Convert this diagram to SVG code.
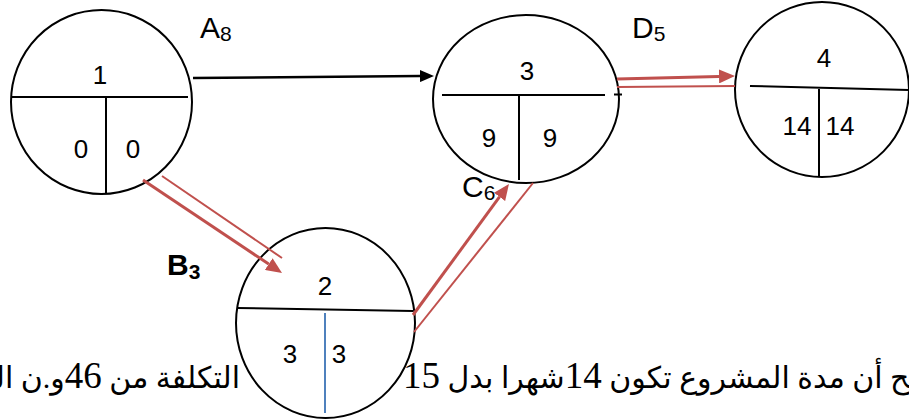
<svg xmlns="http://www.w3.org/2000/svg" width="909" height="419" viewBox="0 0 909 419">
<style>
.node{fill:#fff;stroke:#000;stroke-width:2}
.div{stroke:#000;stroke-width:2;fill:none}
.num{font-family:"Liberation Sans","Open Sans",sans-serif;font-size:26px;fill:#000;text-anchor:middle}
.lab{font-family:"Liberation Sans","Open Sans",sans-serif;font-size:30px;fill:#000}
.sub{font-size:21px}
.red{stroke:#C0504D;fill:none}
.thick{stroke-width:3}
.thin{stroke-width:2}
.ar{font-family:"Liberation Serif","DejaVu Sans",serif;font-size:30px;fill:#000}
.dg{font-size:37px}
</style>
<defs>
<marker id="rh" markerUnits="userSpaceOnUse" markerWidth="16" markerHeight="14" viewBox="0 0 16 14" refX="0" refY="7" orient="auto">
<path d="M0,0 L16,7 L0,14 z" fill="#C0504D"/>
</marker>
<marker id="bh" markerUnits="userSpaceOnUse" markerWidth="14" markerHeight="12" viewBox="0 0 14 12" refX="0" refY="6" orient="auto">
<path d="M0,0 L14,6 L0,12 z" fill="#000"/>
</marker>
</defs>
<rect width="909" height="419" fill="#fff"/>
<g id="caption">
<text class="ar" x="403" y="388" direction="rtl" text-anchor="end">تصبح أن مدة المشروع تكون <tspan class="dg">14</tspan>شهرا بدل <tspan class="dg">15</tspan></text>
<text class="ar" x="240" y="388" direction="rtl" text-anchor="start">التكلفة من <tspan class="dg">46</tspan>و.ن الى</text>
</g>
<g id="node1">
<ellipse class="node" cx="101.5" cy="102" rx="90.5" ry="92"/>
<line class="div" x1="11" y1="97" x2="188" y2="97"/>
<line class="div" x1="106" y1="97" x2="106" y2="194"/>
<text class="num" x="100" y="84">1</text>
<text class="num" x="81" y="158">0</text>
<text class="num" x="133" y="158">0</text>
</g>
<g id="node2">
<ellipse class="node" cx="325.5" cy="323" rx="89.5" ry="95"/>
<line class="div" x1="237" y1="308" x2="413" y2="311"/>
<line x1="325" y1="313" x2="325" y2="413" stroke="#4F81BD" stroke-width="2"/>
<text class="num" x="325" y="295">2</text>
<text class="num" x="290" y="363">3</text>
<text class="num" x="339" y="363">3</text>
</g>
<g id="node3">
<ellipse class="node" cx="526" cy="99" rx="93" ry="84"/>
<line class="div" x1="442" y1="95" x2="605" y2="95"/>
<line class="div" x1="614" y1="94.5" x2="622" y2="94.5"/>
<line class="div" x1="519" y1="95" x2="519" y2="180"/>
<text class="num" x="527" y="80">3</text>
<text class="num" x="489" y="147">9</text>
<text class="num" x="550" y="147">9</text>
</g>
<g id="node4">
<ellipse class="node" cx="822" cy="89.5" rx="87" ry="87.5"/>
<line class="div" x1="750" y1="86" x2="909" y2="90"/>
<line class="div" x1="819" y1="89" x2="819" y2="177"/>
<text class="num" x="824" y="67">4</text>
<text class="num" x="797" y="135">14</text>
<text class="num" x="840" y="135">14</text>
</g>
<g id="connectors">
<line x1="193" y1="78" x2="420" y2="76.1" stroke="#000" stroke-width="2.5" marker-end="url(#bh)"/>
<line class="red thick" x1="617" y1="79" x2="719" y2="76.4" marker-end="url(#rh)"/>
<line class="red thin" x1="617" y1="87" x2="735" y2="86"/>
<line class="red thick" x1="143" y1="180" x2="268.7" y2="264.1" marker-end="url(#rh)"/>
<line class="red thin" x1="162" y1="176" x2="282" y2="258"/>
<line class="red thick" x1="413" y1="315" x2="499.5" y2="196.9" marker-end="url(#rh)"/>
<line class="red thin" x1="414" y1="332" x2="533" y2="183"/>
</g>
<g id="labels">
<text class="lab" x="200" y="38">A<tspan class="sub" dy="3">8</tspan></text>
<text class="lab" x="632" y="38">D<tspan class="sub" dy="3">5</tspan></text>
<text class="lab" x="462" y="197" font-size="32">C<tspan class="sub" dy="3">6</tspan></text>
<text class="lab" x="167" y="275" font-weight="bold" font-size="26">B<tspan class="sub" dy="4">3</tspan></text>
</g>
</svg>
